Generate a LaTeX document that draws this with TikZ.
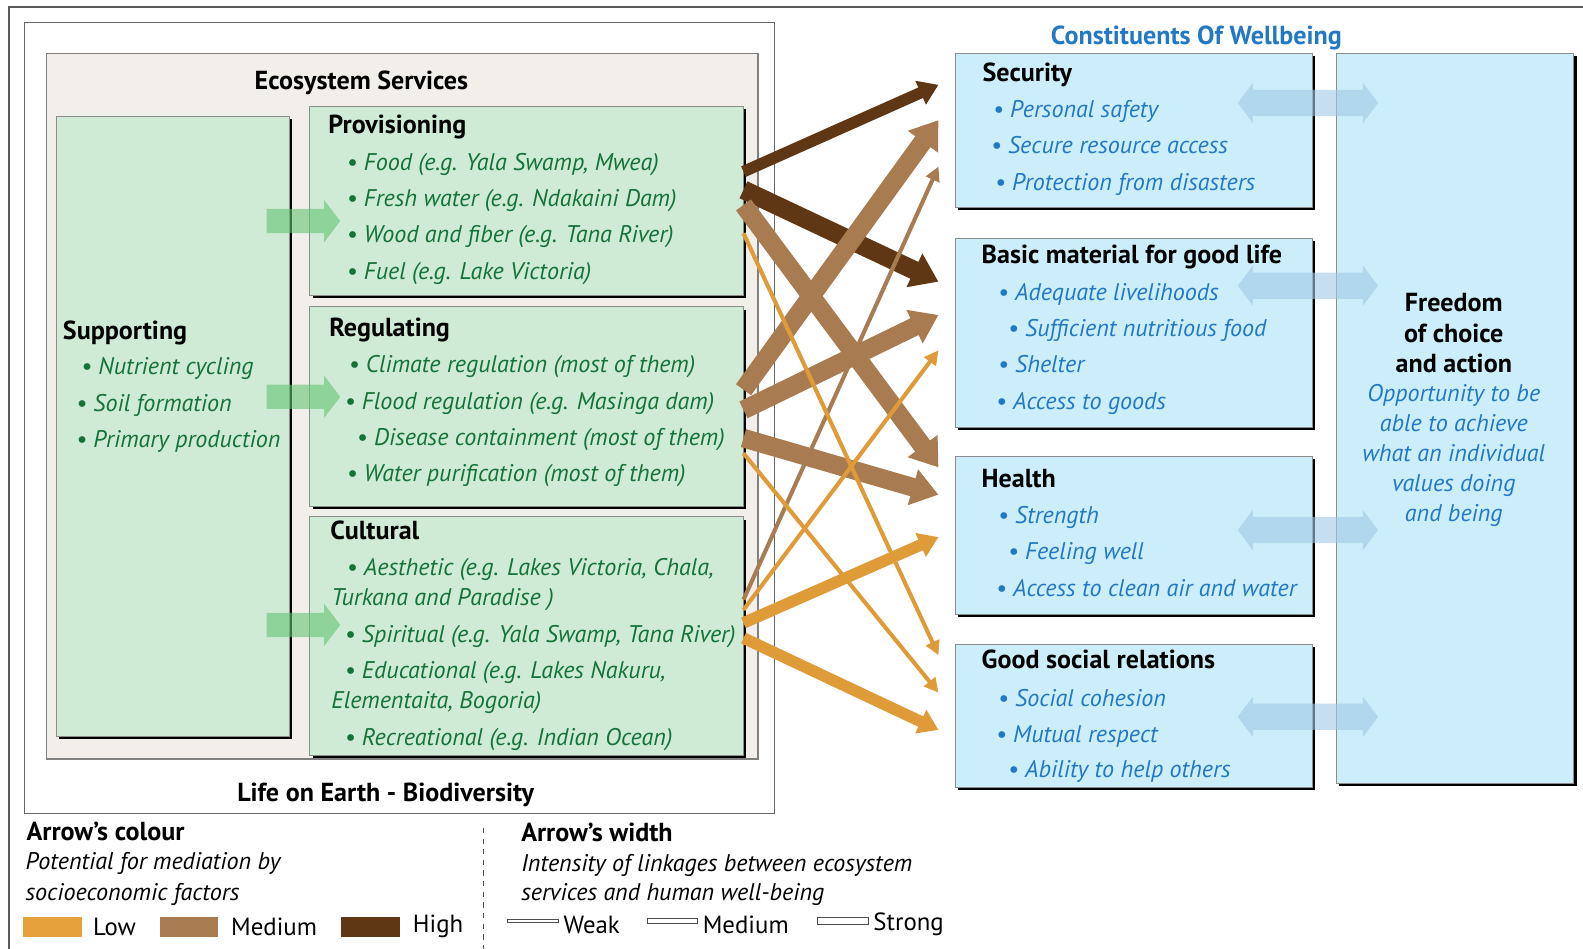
\documentclass[tikz,border=0pt]{standalone}
\usepackage{fontspec}
\setmainfont{PT Sans}[BoldFeatures={Scale=1.05}, ItalicFeatures={Scale=0.97}]
\usepackage{tikz}
\usetikzlibrary{arrows.meta, positioning, fit, shadows, calc}
\definecolor{boxgreen}{RGB}{207,235,213}
\definecolor{boxblue}{RGB}{204,238,250}
\definecolor{esbeige}{RGB}{242,239,234}
\definecolor{txtgreen}{RGB}{20,115,55}
\definecolor{txtblue}{RGB}{35,120,195}
\definecolor{lowc}{RGB}{222,155,56}
\definecolor{lowsw}{RGB}{230,160,60}
\definecolor{medc}{RGB}{168,124,80}
\definecolor{highc}{RGB}{95,55,20}
\definecolor{suparrow}{RGB}{100,195,115}
\definecolor{linkarrow}{RGB}{160,200,228}
\tikzset{
  outline/.style={draw=black!65, line width=0.8pt},
  lifebox/.style={rectangle, draw=black!60, fill=white, inner sep=0pt, line width=0.6pt},
  esbox/.style={rectangle, draw=black!50, fill=esbeige, inner sep=0pt, line width=0.8pt},
  gbox/.style={rectangle, draw=black!45, fill=boxgreen, inner sep=0pt, line width=0.5pt,
    drop shadow={shadow xshift=1.5pt, shadow yshift=-1.5pt, fill=black, opacity=1}},
  bbox/.style={rectangle, draw=black!45, fill=boxblue, inner sep=0pt, line width=0.5pt,
    drop shadow={shadow xshift=1.5pt, shadow yshift=-1.5pt, fill=black, opacity=1}},
  boldlabel/.style={font=\fontsize{14}{17}\selectfont\bfseries, inner sep=0pt, yshift=-0.06cm},
  head/.style={boldlabel, anchor=mid west},
  gitem/.style={font=\fontsize{14}{17}\selectfont\itshape, text=txtgreen, inner sep=0pt,
    anchor=mid west, yshift=-0.06cm},
  bitem/.style={font=\fontsize{14}{17}\selectfont\itshape, text=txtblue, inner sep=0pt,
    anchor=mid west, yshift=-0.06cm},
  note/.style={font=\fontsize{14}{17}\selectfont\itshape, inner sep=0pt, anchor=mid west, yshift=-0.04cm},
  legtext/.style={font=\fontsize{14}{17}\selectfont, inner sep=0pt},
  swatch/.style={rectangle, inner sep=0pt, minimum width=1.16cm, minimum height=0.4cm},
  widthbar/.style={rectangle, draw=black!70, fill=white, inner sep=0pt, line width=0.5pt, minimum width=1cm},
  higharrow/.style={draw=highc},
  medarrow/.style={draw=medc},
  lowarrow/.style={draw=lowc},
  weaklink/.style={line width=2.3pt, -{Triangle[length=8pt, width=8pt]}},
  mediumlink/.style={line width=6.5pt, -{Triangle[length=11pt, width=14pt]}},
  stronglink/.style={line width=10.5pt, -{Triangle[length=15pt, width=20pt]}}
}
\begin{document}
\begin{tikzpicture}[x=0.02cm, y=-0.02cm]
  \useasboundingbox (0,0) rectangle (1568,940);

  % outer frames
  \draw[outline] (1568,7) -- (9,7) -- (9,940);
  \node[lifebox, fit={(24,22) (767,806)}] (life) {};
  \node[esbox, fit={(46,53) (751,752)}] (es) {};
  \node[boldlabel] (estitle) at (358,79) {Ecosystem Services};
  \node[boldlabel] (lifetitle) at (382,784) {Life on Earth - Biodiversity};

  % ecosystem services
  \node[gbox, fit={(56,115) (287,729)}] (supp) {};
  \node[gbox, fit={(307,105) (736,293)}] (prov) {};
  \node[gbox, fit={(307,304) (736,502)}] (reg) {};
  \node[gbox, fit={(307,512) (736,748)}] (cult) {};

  \node[head] (supphead) at (62,329) {Supporting};
  \foreach \x/\y/\txt [count=\i] in {80/364/{• Nutrient cycling}, 75/400/{• Soil formation},
      75/436/{• Primary production}}
    \node[gitem] (supp-\i) at (\x,\y) {\txt};

  \node[head] (provhead) at (325,125) {Provisioning};
  \foreach \txt [count=\i] in {{• Food (e.g. Yala Swamp, Mwea)}, {• Fresh water (e.g. Ndakaini Dam)},
      {• Wood and fiber (e.g. Tana River)}, {• Fuel (e.g. Lake Victoria)}}
    \node[gitem] (prov-\i) at (343,{161+36*(\i-1)}) {\txt};

  \node[head] (reghead) at (326,326) {Regulating};
  \foreach \x/\y/\txt [count=\i] in {345/362/{• Climate regulation (most of them)},
      341/398/{• Flood regulation (e.g. Masinga dam)},
      353/434/{• Disease containment (most of them)},
      343/470/{• Water purification (most of them)}}
    \node[gitem] (reg-\i) at (\x,\y) {\txt};

  \node[head] (culthead) at (327,527) {Cultural};
  \foreach \x/\y/\txt [count=\i] in {343/563/{• Aesthetic (e.g. Lakes Victoria, Chala,},
      328/592/{Turkana and Paradise )},
      341/629/{• Spiritual (e.g. Yala Swamp, Tana River)},
      341/665/{• Educational (e.g. Lakes Nakuru,},
      328/694/{Elementaita, Bogoria)},
      341/731/{• Recreational (e.g. Indian Ocean)}}
    \node[gitem] (cult-\i) at (\x,\y) {\txt};

  % supporting feeds the other services
  \foreach \y in {219,393,619}
    \fill[suparrow, opacity=0.6] (264,\y-12) -- (321,\y-12) -- (321,\y-21) -- (337,\y)
      -- (321,\y+21) -- (321,\y+12) -- (264,\y+12) -- cycle;

  % constituents of wellbeing
  \node[boldlabel, text=txtblue] (cwtitle) at (1185,35) {Constituents Of Wellbeing};
  \node[bbox, fit={(1324,53) (1559,776)}] (free) {};
  \node[bbox, fit={(946,53) (1300,205)}] (sec) {};
  \node[bbox, fit={(946,236) (1300,423)}] (basic) {};
  \node[bbox, fit={(946,452) (1300,609)}] (health) {};
  \node[bbox, fit={(946,638) (1300,780)}] (social) {};

  \node[head] (sechead) at (973,73) {Security};
  \foreach \x/\y/\txt [count=\i] in {983/109/{• Personal safety}, 981/145/{• Secure resource access},
      985/181/{• Protection from disasters}}
    \node[bitem] (sec-\i) at (\x,\y) {\txt};

  \node[head] (basichead) at (972,254) {Basic material for good life};
  \foreach \x/\y/\txt [count=\i] in {988/290/{• Adequate livelihoods}, 998/326/{• Sufficient nutritious food},
      988/362/{• Shelter}, 986/398/{• Access to goods}}
    \node[bitem] (basic-\i) at (\x,\y) {\txt};

  \node[head] (healthhead) at (972,475) {Health};
  \foreach \x/\y/\txt [count=\i] in {988/511/{• Strength}, 998/547/{• Feeling well},
      986/583/{• Access to clean air and water}}
    \node[bitem] (health-\i) at (\x,\y) {\txt};

  \node[head] (socialhead) at (972,655) {Good social relations};
  \foreach \x/\y/\txt [count=\i] in {988/692/{• Social cohesion}, 986/728/{• Mutual respect},
      998/763/{• Ability to help others}}
    \node[bitem] (social-\i) at (\x,\y) {\txt};

  \node[boldlabel, align=center, font=\fontsize{14}{17}\selectfont\bfseries, yshift=0cm] (freehead)
    at (1440,327) {Freedom\\of choice\\and action};
  \node[bitem, anchor=center, align=center, font=\fontsize{14}{17}\selectfont\itshape, yshift=0cm]
    (freetext) at (1440,448) {Opportunity to be\\able to achieve\\what an individual\\values doing\\and being};

  % links between the boxes on the right
  \foreach \y in {102,283,525,710}
    \fill[linkarrow, opacity=0.6] (1226,\y) -- (1241,\y-20) -- (1241,\y-13) -- (1350,\y-13) -- (1350,\y-20)
      -- (1365,\y) -- (1350,\y+20) -- (1350,\y+13) -- (1241,\y+13) -- (1241,\y+20) -- cycle;

  % services to wellbeing
  \foreach \src/\sy/\dst/\dy/\clr/\wd in {
      prov/170/sec/84/higharrow/mediumlink, prov/188/basic/279/higharrow/stronglink,
      reg/386/sec/119/medarrow/stronglink, cult/594/sec/165/medarrow/weaklink,
      prov/203/health/463/medarrow/stronglink, reg/406/basic/312/medarrow/stronglink,
      reg/434/health/490/medarrow/stronglink,
      prov/231/social/649/lowarrow/weaklink, reg/449/social/686/lowarrow/weaklink,
      cult/604/basic/347/lowarrow/weaklink, cult/617/health/532/lowarrow/mediumlink,
      cult/632/social/723/lowarrow/mediumlink}
    \draw[\clr, \wd] (\src.east |- 0,\sy) -- ($(\dst.west |- 0,\dy)+(-16,0)$);

  % legend
  \node[head] (colhead) at (26,825) {Arrow’s colour};
  \node[note] (colnote1) at (25,855) {Potential for mediation by};
  \node[note] (colnote2) at (25,886) {socioeconomic factors};
  \node[swatch, fill=lowsw] (swlow) at (52,918) {};
  \node[legtext, right=6pt of swlow] (lowtext) {Low};
  \node[swatch, fill=medc] (swmed) at (187,918) {};
  \node[legtext, right=7pt of swmed] (medtext) {Medium};
  \node[swatch, fill=highc] (swhigh) at (367,918) {};
  \node[legtext, right=7pt of swhigh] (hightext) {High};
  \draw[dashed, black!70] (479,820) -- (479,940);

  \node[head] (widhead) at (516,826) {Arrow’s width};
  \node[note] (widnote1) at (516,857) {Intensity of linkages between ecosystem};
  \node[note] (widnote2) at (516,886) {services and human well-being};
  \node[widthbar, minimum height=0.06cm] (barweak) at (528,912) {};
  \node[legtext, right=2.5pt of barweak, yshift=-0.08cm] (weaktext) {Weak};
  \node[widthbar, minimum height=0.1cm] (barmed) at (666,912) {};
  \node[legtext, right=2.5pt of barmed, yshift=-0.08cm] (medwtext) {Medium};
  \node[widthbar, minimum height=0.15cm] (barstrong) at (835,912) {};
  \node[legtext, right=2.5pt of barstrong, yshift=-0.08cm] (strongtext) {Strong};
\end{tikzpicture}
\end{document}
